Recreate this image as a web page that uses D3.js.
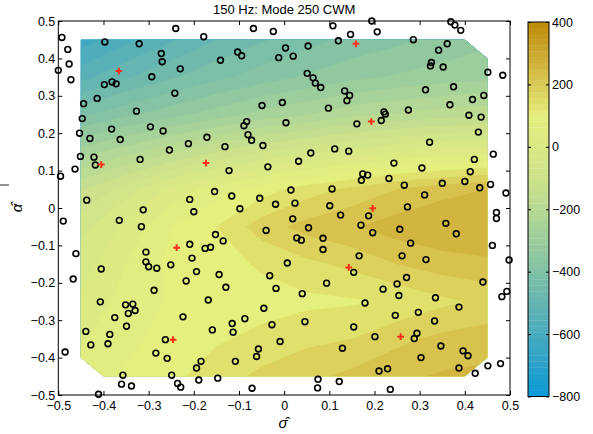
<!DOCTYPE html>
<html>
<head>
<meta charset="utf-8">
<script src="https://cdn.jsdelivr.net/npm/d3@7"></script>
<style>
  body { margin: 0; background: #fff; }
  text { font-family: "Liberation Sans", Arial, sans-serif; }
</style>
</head>
<body>
<svg width="593" height="434"></svg>
<script>
const title = '150 Hz: Mode 250 CWM';
const xTicks = [-0.5, -0.4, -0.3, -0.2, -0.1, 0, 0.1, 0.2, 0.3, 0.4, 0.5];
const yTicks = [-0.5, -0.4, -0.3, -0.2, -0.1, 0, 0.1, 0.2, 0.3, 0.4, 0.5];
const cbTicks = [-800, -600, -400, -200, 0, 200, 400];

// interpolated field, sampled on a 0.1 grid (rows top to bottom)
const gridX = [-0.45, -0.35, -0.25, -0.15, -0.05, 0.05, 0.15, 0.25, 0.35, 0.45];
const gridY = [0.45, 0.35, 0.25, 0.15, 0.05, -0.05, -0.15, -0.25, -0.35, -0.45];
const field = [
  [-620, -570, -525, -480, -445, -415, -390, -370, -350, -330],
  [-535, -485, -445, -410, -380, -355, -330, -315, -300, -290],
  [-410, -370, -335, -300, -265, -240, -210, -195, -180, -170],
  [-260, -215, -165, -120,  -80,  -50,  -25,    0,   15,   30],
  [-125,  -60,   10,   60,  100,  140,  170,  200,  225,  240],
  [ -55,   10,   80,  120,  180,  215,  235,  260,  275,  280],
  [ -20,   40,   90,  105,  125,  150,  170,  200,  220,  230],
  [  10,   55,   85,  100,  105,  110,  115,  125,  150,  170],
  [  35,   70,   95,  115,  130,  150,  160,  190,  210,  220],
  [  55,   85,  110,  140,  170,  190,  210,  230,  245,  250]
];
// outline of the region covered by the field
const hull = [[-0.45, 0.45], [0.4, 0.45], [0.45, 0.4], [0.45, -0.4], [0.4, -0.45], [-0.4, -0.45], [-0.45, -0.4]];

// sample points (black circles)
const samples = [
  [-0.492,0.456],[-0.479,0.424],[-0.476,0.385],[-0.500,0.368],[-0.472,0.343],
  [-0.397,0.444],[-0.321,0.439],[-0.240,0.480],[-0.178,0.458],[-0.272,0.413],
  [-0.270,0.391],[-0.230,0.372],[-0.293,0.351],[-0.398,0.330],[-0.381,0.337],
  [-0.372,0.332],[-0.242,0.307],[-0.444,0.279],[-0.414,0.293],[-0.447,0.239],
  [-0.327,0.259],[-0.453,0.200],[-0.430,0.186],[-0.382,0.211],[-0.363,0.183],
  [-0.296,0.217],[-0.268,0.206],[-0.254,0.155],[-0.212,0.172],[-0.171,0.189],
  [-0.451,0.138],[-0.421,0.136],[-0.418,0.115],[-0.463,0.104],[-0.495,0.085],
  [-0.319,0.130],
  [-0.068,0.480],[-0.024,0.472],[0.108,0.487],[0.147,0.464],[0.120,0.447],
  [-0.141,0.395],[-0.103,0.417],[-0.094,0.407],[0.003,0.428],[-0.012,0.402],
  [0.020,0.406],[0.053,0.433],[0.051,0.360],[0.064,0.348],[0.069,0.334],
  [0.081,0.322],[0.134,0.313],[0.145,0.301],[0.139,0.287],[0.098,0.267],
  [-0.004,0.282],[-0.049,0.274],[-0.083,0.231],[-0.089,0.220],[0.004,0.228],
  [0.161,0.225],[-0.080,0.196],[-0.072,0.181],[-0.131,0.164],[-0.047,0.167],
  [0.059,0.147],[0.112,0.158],[0.143,0.152],[0.032,0.125],[-0.036,0.110],
  [-0.122,0.100],[0.174,0.091],
  [0.194,0.500],[0.206,0.471],[0.369,0.498],[0.378,0.489],[0.391,0.475],
  [0.286,0.450],[0.361,0.439],[0.342,0.422],[0.326,0.389],[0.324,0.380],
  [0.352,0.377],[0.451,0.363],[0.484,0.355],[0.313,0.316],[0.375,0.324],
  [0.442,0.301],[0.417,0.290],[0.367,0.276],[0.275,0.262],[0.221,0.257],
  [0.224,0.251],[0.215,0.234],[0.409,0.248],[0.436,0.243],[0.430,0.203],
  [0.322,0.176],[0.463,0.144],[0.421,0.130],[0.243,0.120],[0.305,0.107],
  [0.412,0.097],[0.185,0.088],[0.232,0.079],
  [-0.437,0.021],[-0.312,-0.005],[-0.365,-0.033],[-0.316,-0.050],[-0.209,0.023],
  [-0.200,-0.010],[-0.154,0.044],[-0.116,0.032],[-0.054,0.026],[-0.098,-0.002],
  [-0.019,0.010],[0.024,0.013],[0.015,0.048],[0.106,0.051],[0.101,0.006],
  [0.125,-0.019],[0.171,0.074],[0.266,0.061],[0.311,0.035],[0.350,0.066],
  [0.400,0.071],[0.433,0.054],[0.457,0.063],[0.491,0.040],[0.273,0.003],
  [0.187,-0.021],[0.170,-0.046],[0.196,-0.066],[0.256,-0.057],[0.358,-0.041],
  [0.381,-0.069],[0.470,-0.012],[0.470,-0.028],[0.280,-0.094],[0.261,-0.128],
  [0.314,-0.138],[0.166,-0.128],[0.154,-0.172],[0.086,-0.081],[0.086,-0.111],
  [0.054,-0.053],[0.028,-0.080],[0.038,-0.086],[0.019,-0.029],[-0.040,-0.060],
  [0.007,-0.147],[-0.032,-0.181],[-0.018,-0.215],[0.040,-0.229],[0.094,-0.201],
  [-0.045,-0.268],[0.046,-0.304],[-0.027,-0.312],[-0.087,-0.296],[-0.115,-0.309],
  [-0.113,-0.332],[-0.159,-0.326],[-0.009,-0.357],[-0.057,-0.377],[-0.061,-0.397],
  [-0.108,-0.410],[-0.147,-0.455],[-0.184,-0.410],[-0.194,-0.428],[-0.189,-0.460],
  [-0.249,-0.447],[-0.236,-0.469],[-0.229,-0.479],[-0.259,-0.402],[-0.284,-0.388],
  [-0.263,-0.352],[-0.357,-0.447],[-0.360,-0.471],[-0.338,-0.476],[-0.386,-0.338],
  [-0.390,-0.363],[-0.428,-0.366],[-0.439,-0.330],[-0.375,-0.293],[-0.349,-0.316],
  [-0.351,-0.259],[-0.335,-0.257],[-0.345,-0.282],[-0.330,-0.274],[-0.407,-0.251],
  [-0.224,-0.291],[-0.168,-0.246],[-0.288,-0.220],[-0.217,-0.195],[-0.194,-0.170],
  [-0.204,-0.134],[-0.209,-0.097],[-0.175,-0.108],[-0.163,-0.105],[-0.152,-0.071],
  [-0.135,-0.088],[-0.144,-0.178],[-0.129,-0.212],[-0.306,-0.118],[-0.306,-0.144],
  [-0.300,-0.157],[-0.282,-0.161],[-0.251,-0.152],[-0.405,-0.163],[0.271,-0.186],
  [0.250,-0.203],[0.219,-0.217],[0.254,-0.234],[0.179,-0.254],[0.335,-0.240],
  [0.387,-0.265],[0.440,-0.198],[0.246,-0.287],[0.297,-0.279],[0.333,-0.302],
  [0.154,-0.318],[0.201,-0.344],[0.294,-0.335],[0.288,-0.349],[0.347,-0.369],
  [0.396,-0.382],[0.407,-0.395],[0.303,-0.400],[0.129,-0.375],[0.210,-0.436],
  [0.229,-0.430],[0.387,-0.428],[0.423,-0.442],[0.451,-0.422],[0.479,-0.416],
  [0.075,-0.458],[0.122,-0.464],[0.074,-0.481],[-0.071,-0.482],[0.235,-0.485],
  [0.461,-0.100],[0.498,-0.139],[0.482,-0.237],[0.493,-0.223],[-0.489,-0.035],
  [-0.461,-0.122],[-0.467,-0.190],[-0.485,-0.385],[-0.411,-0.498]
];
// red plus markers
const centres = [
  [-0.366,0.366],[0.159,0.439],[-0.405,0.116],[-0.173,0.120],[0.193,0.231],
  [0.196,-0.001],[-0.238,-0.106],[0.143,-0.159],[-0.246,-0.352],[0.258,-0.344]
];

const cmapStops = [-800, -700, -600, -500, -400, -300, -200, -100, 0, 100, 200, 300, 400];
const cmapColors = ['#0a9bd5', '#2aa1ca', '#48aabf', '#65b5b2', '#80c1a6', '#9ccd9c', '#b7d994',
                    '#cde28b', '#dbe985', '#e5ef7e', '#d9c954', '#cca830', '#bd8a08'];

const svg = d3.select('svg');
const fontSize = 12.5;

const x = d3.scaleLinear().domain([-0.5, 0.5]).range([58.3, 510]);
const y = d3.scaleLinear().domain([-0.5, 0.5]).range([395, 21]);
const cb = d3.scaleLinear().domain([-800, 400]).range([396.5, 22]);
const cmap = d3.scaleLinear().domain(cmapStops).range(cmapColors).clamp(true);

// contour grid coords -> pixels (value i sits at i + 0.5)
const n = gridX.length, m = gridY.length;
const gx = d3.scaleLinear().domain([0.5, n - 0.5]).range([x(gridX[0]), x(gridX[n - 1])]);
const gy = d3.scaleLinear().domain([0.5, m - 0.5]).range([y(gridY[0]), y(gridY[m - 1])]);
const path = d3.geoPath(d3.geoTransform({
  point(px, py) { this.stream.point(gx(px), gy(py)); }
}));

svg.append('clipPath').attr('id', 'hull')
  .append('path')
  .attr('d', 'M' + hull.map(p => x(p[0]) + ',' + y(p[1])).join('L') + 'Z');

const step = 40;
const thresholds = d3.range(-800, 400, step);
const bands = d3.contours().size([n, m]).thresholds(thresholds)(field.flat());

svg.append('g').attr('clip-path', 'url(#hull)')
  .selectAll('path')
  .data(bands)
  .join('path')
  .attr('d', path)
  .attr('fill', d => cmap(d.value + step / 2))
  .attr('stroke', d => cmap(d.value + step / 2))
  .attr('stroke-width', 0.3);

// axes
const fmt = d => d === 0 ? '0' : d3.format('.1f')(d);
function styleAxis(g) {
  g.select('.domain').remove();
  g.selectAll('line').attr('stroke', '#000');
  g.selectAll('text').attr('font-size', fontSize).attr('fill', '#000')
    .attr('font-family', '"Liberation Sans", Arial, sans-serif');
}
svg.append('g').attr('transform', 'translate(0,395)')
  .call(d3.axisBottom(x).tickValues(xTicks).tickSize(-4).tickPadding(6).tickFormat(fmt)).call(styleAxis);
svg.append('g').attr('transform', 'translate(0,21)')
  .call(d3.axisTop(x).tickValues(xTicks).tickSize(-4).tickFormat('')).call(styleAxis);
svg.append('g').attr('transform', 'translate(58.3,0)')
  .call(d3.axisLeft(y).tickValues(yTicks).tickSize(-4).tickPadding(3).tickFormat(fmt)).call(styleAxis);
svg.append('g').attr('transform', 'translate(510,0)')
  .call(d3.axisRight(y).tickValues(yTicks).tickSize(-4).tickFormat('')).call(styleAxis);

svg.append('rect')
  .attr('x', x(-0.5)).attr('y', y(0.5))
  .attr('width', x(0.5) - x(-0.5)).attr('height', y(-0.5) - y(0.5))
  .attr('fill', 'none').attr('stroke', '#000').attr('stroke-width', 1);

// samples
svg.append('g').selectAll('circle')
  .data(samples)
  .join('circle')
  .attr('cx', d => x(d[0])).attr('cy', d => y(d[1]))
  .attr('r', 2.9)
  .attr('fill', 'none').attr('stroke', '#000').attr('stroke-width', 1.6);

svg.append('g').selectAll('path')
  .data(centres)
  .join('path')
  .attr('d', d => {
    const cx = x(d[0]), cy = y(d[1]), s = 3.4;
    return `M${cx - s},${cy}H${cx + s}M${cx},${cy - s}V${cy + s}`;
  })
  .attr('stroke', '#ff3019').attr('stroke-width', 2);

// colorbar
const nColors = 64;
const cbStep = 1200 / nColors;
svg.append('g').selectAll('rect')
  .data(d3.range(nColors))
  .join('rect')
  .attr('x', 528).attr('width', 21)
  .attr('y', i => cb(-800 + (i + 1) * cbStep))
  .attr('height', i => cb(-800 + i * cbStep) - cb(-800 + (i + 1) * cbStep) + 0.3)
  .attr('fill', i => cmap(-800 + (i + 0.5) * cbStep));

svg.append('g').attr('transform', 'translate(549,0)')
  .call(d3.axisRight(cb).tickValues(cbTicks).tickSize(-3).tickPadding(3).tickFormat(d3.format('d'))).call(styleAxis);
svg.append('g').attr('transform', 'translate(528,0)')
  .call(d3.axisLeft(cb).tickValues(cbTicks).tickSize(-3).tickFormat('')).call(styleAxis);
svg.append('rect')
  .attr('x', 528).attr('y', cb(400)).attr('width', 21).attr('height', cb(-800) - cb(400))
  .attr('fill', 'none').attr('stroke', '#000').attr('stroke-width', 1);

// labels
svg.append('text')
  .attr('x', (x(-0.5) + x(0.5)) / 2).attr('y', 14)
  .attr('text-anchor', 'middle').attr('font-size', 13).attr('fill', '#000')
  .text(title);

svg.append('text')
  .attr('x', 283).attr('y', 428)
  .attr('text-anchor', 'middle').attr('font-size', 15)
  .attr('font-family', '"DejaVu Serif", serif').attr('font-style', 'italic')
  .text('σ\u0302');

svg.append('text')
  .attr('transform', 'translate(22,208) rotate(-90)')
  .attr('text-anchor', 'middle').attr('font-size', 15)
  .attr('font-family', '"DejaVu Serif", serif').attr('font-style', 'italic')
  .text('α\u0302');

svg.append('line')
  .attr('x1', 0).attr('x2', 9).attr('y1', 185).attr('y2', 185)
  .attr('stroke', '#555').attr('stroke-width', 1.3);
</script>
</body>
</html>
